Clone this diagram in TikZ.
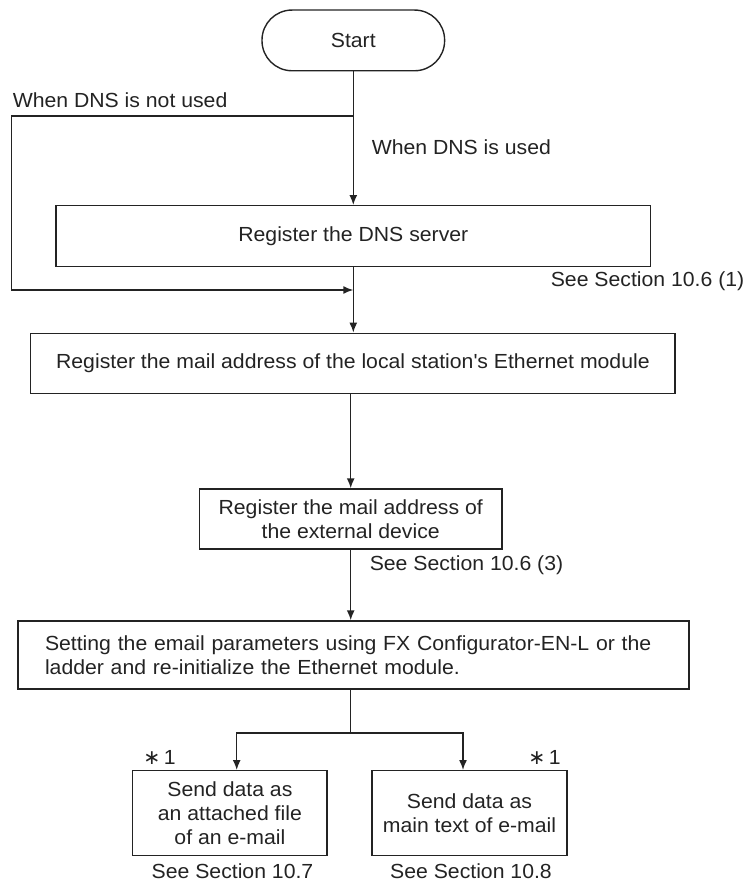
\documentclass[tikz,border=0pt]{standalone}
\usepackage{fontspec}
\setmainfont{Liberation Sans}[FakeStretch=1.04]
\newfontfamily\symfont{DejaVu Sans}
\usepackage{tikz}
\usetikzlibrary{arrows.meta}
\definecolor{ink}{RGB}{35,35,35}

\begin{document}
\begin{tikzpicture}[x=1pt,y=-1pt,
    line width=1.5pt,draw=ink,
    box/.style={draw=ink,line width=1.4pt,align=center,inner sep=0pt,text=ink,font=\fontsize{20.4}{24.4}\selectfont},
    term/.style={box,rounded corners=30pt},
    note/.style={inner sep=0pt,text=ink,font=\fontsize{20.4}{24.4}\selectfont},
    go/.style={-{Latex[length=10pt,width=8pt]}}
  ]
    \useasboundingbox (0,0) rectangle (746,883);

    % main column
    \node[term,minimum width=182.6pt,minimum height=60.7pt] (start) at (353.3,40.4) {Start};
    \node[box,minimum width=594.3pt,minimum height=61pt] (dns) at (353.3,236.2) {Register the DNS server};
    \node[box,minimum width=644.3pt,minimum height=60pt] (local) at (352.9,363.3) {Register the mail address of the local station\textquotesingle s Ethernet module};
    \node[box,minimum width=302.7pt,minimum height=60pt] (ext) at (350.7,519) {Register the mail address of\\the external device};
    \node[box,minimum width=671pt,minimum height=68pt,align=left,text width=617pt] (email) at (353.5,655) {Setting the email parameters using FX Configurator-EN-L or the\\ladder and re-initialize the Ethernet module.};
    \node[box,minimum width=194.3pt,minimum height=85pt] (attach) at (229.9,813.2) {Send data as\\an attached file\\of an e-mail};
    \node[box,minimum width=195pt,minimum height=85pt] (maintext) at (469.5,813.2) {Send data as\\main text of e-mail};

    % labels
    \node[note,anchor=west] (nouse) at (12,100) {When DNS is not used};
    \node[note,anchor=west] (use) at (371,147) {When DNS is used};
    \node[note,anchor=east] (ref1) at (745,281) {See Section 10.6 (1)};
    \node[note,anchor=west] (ref3) at (369,565) {See Section 10.6 (3)};
    \node[note] (star1) at (159.5,757) {{\symfont ∗}\,1};
    \node[note] (star2) at (544.5,757) {{\symfont ∗}\,1};
    \node[note] (ref7) at (232.5,871.5) {See Section 10.7};
    \node[note] (ref8) at (471,871.5) {See Section 10.8};

    % connectors
    \coordinate (fork) at (353.3,116);
    \coordinate (lefttop) at (11.5,116);
    \coordinate (leftbot) at (11.5,290);
    \coordinate (merge) at (353.3,290);
    \coordinate (split) at (350.7,733);
    \coordinate (splitL) at (236.7,733);
    \coordinate (splitR) at (463,733);

    \draw[go] (start) -- (dns);
    \draw[go] (fork) -- (lefttop) -- (leftbot) -- (merge);
    \draw[go] (dns.south) -- (dns.south |- local.north);
    \draw[go] (ext.north |- local.south) -- (ext.north);
    \draw[go] (ext.south) -- (ext.south |- email.north);
    \draw (split |- email.south) -- (split);
    \draw[go] (split) -- (splitL) -- (splitL |- attach.north);
    \draw[go] (split) -- (splitR) -- (splitR |- maintext.north);
  \end{tikzpicture}
\end{document}
